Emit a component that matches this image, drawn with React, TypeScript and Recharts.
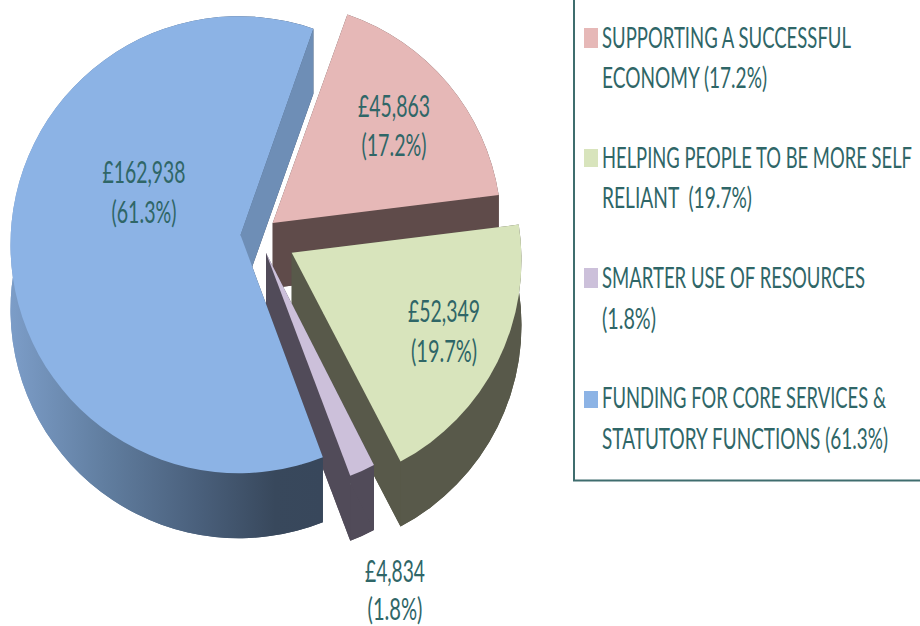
import React from 'react';
import { PieChart, Pie, Legend } from 'recharts';

const categories = [
  'SUPPORTING A SUCCESSFUL ECONOMY',
  'HELPING PEOPLE TO BE MORE SELF RELIANT',
  'SMARTER USE OF RESOURCES',
  'FUNDING FOR CORE SERVICES & STATUTORY FUNCTIONS',
];
const amounts = [45863, 52349, 4834, 162938];
const amountLabels = ['£45,863', '£52,349', '£4,834', '£162,938'];
const shareLabels = ['(17.2%)', '(19.7%)', '(1.8%)', '(61.3%)'];
const legendLines = [
  ['SUPPORTING A SUCCESSFUL', 'ECONOMY (17.2%)'],
  ['HELPING PEOPLE TO BE MORE SELF', 'RELIANT  (19.7%)'],
  ['SMARTER USE OF RESOURCES', '(1.8%)'],
  ['FUNDING FOR CORE SERVICES &', 'STATUTORY FUNCTIONS (61.3%)'],
];

const topColors = ['#e6b8b7', '#d8e4bc', '#ccc0da', '#8cb3e5'];
const sideColors = ['#5f4b4a', '#58594a', '#514b59', 'url(#blueWall)'];
const faceColors = ['#5f4b4a', '#58594a', '#514b59', '#6e8eb6'];
const TEXT = '#2f6667';
const FONT = 'Lato, sans-serif';

const CX = 239;
const CY = 244.7;
const RADIUS = 228.5;
const DEPTH = 65;
// how far each slice is pulled out of the pie
const explode = [
  { x: 34, y: -14.2 },
  { x: 54, y: 15.3 },
  { x: 27.4, y: 18.6 },
  { x: 0, y: 0 },
];
// the tilted view puts the apex of each slice slightly off its arc centre
const apex = [
  { x: -0.3, y: -7.5 },
  { x: -1.3, y: -7.3 },
  { x: -0.4, y: -10.3 },
  { x: 1.5, y: -9.7 },
];
// label placement relative to the pie centre: centre x, two baselines, two text widths
const labelPos = [
  { x: 155, y1: -127.7, y2: -88.7, w1: 72, w2: 65 },
  { x: 205, y1: 77.3, y2: 117.3, w1: 72, w2: 66 },
  { x: 156, y1: 337.3, y2: 375.3, w1: 60, w2: 55 },
  { x: -95, y1: -61.7, y2: -21.7, w1: 83, w2: 65 },
];
// legend placement inside its box: swatch top, swatch height, baselines and text widths
const legendPos = [
  { top: 28, h: 20, y1: 47.5, y2: 88, w1: 249, w2: 165 },
  { top: 149, h: 18, y1: 168, y2: 208, w1: 310, w2: 150 },
  { top: 268, h: 20, y1: 288, y2: 329, w1: 263, w2: 54 },
  { top: 391, h: 17, y1: 408, y2: 449, w1: 284, w2: 286 },
];
const LEGEND_FONT = 18;
const LEGEND_STRETCH = 29 / 18;

const pieData = categories.map((name, i) => ({ name, value: amounts[i], fill: topColors[i] }));

const Slice = (props: any) => {
  const { cx, cy, outerRadius: r, startAngle, endAngle, index } = props;
  const i = index ?? 0;
  const ox = cx + explode[i].x;
  const oy = cy + explode[i].y;
  const pt = (deg: number, dy = 0) => {
    const a = (deg * Math.PI) / 180;
    return `${ox + r * Math.cos(a)} ${oy - r * Math.sin(a) + dy}`;
  };
  const ax = ox + apex[i].x;
  const ay = oy + apex[i].y;
  const large = Math.abs(startAngle - endAngle) > 180 ? 1 : 0;
  const sector = (dy: number) =>
    `M${ax} ${ay + dy}L${pt(startAngle, dy)}A${r} ${r} 0 ${large} 1 ${pt(endAngle, dy)}Z`;
  const wall =
    `M${pt(startAngle)}A${r} ${r} 0 ${large} 1 ${pt(endAngle)}` +
    `L${pt(endAngle, DEPTH)}A${r} ${r} 0 ${large} 0 ${pt(startAngle, DEPTH)}Z`;
  const edge = (deg: number) =>
    `M${ax} ${ay}L${pt(deg)}L${pt(deg, DEPTH)}L${ax} ${ay + DEPTH}Z`;
  return (
    <g>
      <defs>
        <linearGradient id="blueWall" gradientUnits="userSpaceOnUse" x1="10" y1="0" x2="322" y2="0">
          <stop offset="0" stopColor="#7c9dc8" />
          <stop offset="0.3" stopColor="#617ea0" />
          <stop offset="0.6" stopColor="#4a607c" />
          <stop offset="0.85" stopColor="#38485c" />
          <stop offset="1" stopColor="#38475b" />
        </linearGradient>
      </defs>
      <path d={sector(DEPTH)} fill={sideColors[i]} />
      <path d={wall} fill={sideColors[i]} />
      <path d={edge(startAngle)} fill={sideColors[i]} />
      <path d={edge(endAngle)} fill={faceColors[i]} />
      <path d={sector(0)} fill={topColors[i]} />
    </g>
  );
};

const sliceLabel = (props: any) => {
  const { cx, cy, index } = props;
  const p = labelPos[index];
  const common = {
    x: cx + p.x,
    textAnchor: 'middle' as const,
    fontFamily: FONT,
    fontSize: 30,
    fill: TEXT,
    lengthAdjust: 'spacingAndGlyphs' as const,
  };
  return (
    <g key={index}>
      <text {...common} y={cy + p.y1} textLength={p.w1}>{amountLabels[index]}</text>
      <text {...common} y={cy + p.y2} textLength={p.w2}>{shareLabels[index]}</text>
    </g>
  );
};

const legendContent = () => (
  <svg width={347} height={482} style={{ display: 'block' }}>
    <path d="M1 0V480.5H347" fill="none" stroke="#3f6d6e" strokeWidth={2} />
    {legendLines.map((lines, i) => {
      const p = legendPos[i];
      const line = (text: string, y: number, width: number) => (
        <g transform={`translate(29 ${y}) scale(1 ${LEGEND_STRETCH})`}>
          <text
            fontFamily={FONT}
            fontSize={LEGEND_FONT}
            fill={TEXT}
            textLength={width}
            lengthAdjust="spacingAndGlyphs"
            style={{ whiteSpace: 'pre' }}
          >
            {text}
          </text>
        </g>
      );
      return (
        <g key={lines[0]}>
          <rect x={11} y={p.top} width={14} height={p.h} fill={topColors[i]} />
          {line(lines[0], p.y1, p.w1)}
          {line(lines[1], p.y2, p.w2)}
        </g>
      );
    })}
  </svg>
);

export default function App() {
  return (
    <div style={{ position: 'absolute', left: 0, top: 0, width: 920, height: 626 }}>
      <PieChart width={920} height={626} margin={{ top: 0, right: 0, bottom: 0, left: 0 }}>
        <Pie
          data={pieData}
          dataKey="value"
          nameKey="name"
          cx={CX}
          cy={CY}
          outerRadius={RADIUS}
          startAngle={71}
          endAngle={-289}
          stroke="none"
          shape={Slice}
          label={sliceLabel}
          labelLine={false}
          isAnimationActive={false}
        />
        <Legend
          content={legendContent}
          wrapperStyle={{ position: 'absolute', left: 573, top: 0, width: 347, height: 482 }}
        />
      </PieChart>
    </div>
  );
}
